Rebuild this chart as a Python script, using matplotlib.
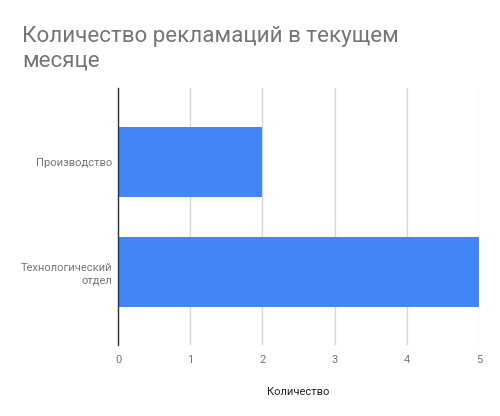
import matplotlib
matplotlib.use("Agg")
import matplotlib.pyplot as plt

plt.rcParams['font.family'] = ['Roboto', 'DejaVu Sans']

categories = ["Производство", "Технологический\nотдел"]
values = [2, 5]
x_ticks = [0, 1, 2, 3, 4, 5]
title = "Количество рекламаций в текущем\nмесяце"
x_label = "Количество"

fig = plt.figure(figsize=(5, 4.16), dpi=100)
# plot area in pixels: x 118..479, y 88..345
ax = fig.add_axes([118/500, 1 - 345/416, (479-118)/500, (345-88)/416])

pos = list(range(len(categories)))
ax.barh(pos, values, height=0.636, color="#4285F4", zorder=3)
ax.set_ylim(1.664, -0.673)
ax.set_xlim(0, 5)
ax.set_xticks(x_ticks)
ax.set_yticks(pos)
ax.set_yticklabels(categories, ha="right", linespacing=1.3)
ax.tick_params(axis="both", length=0, labelsize=8, colors="#757575")
ax.tick_params(axis="x", pad=7)
ax.tick_params(axis="y", pad=4)
ax.xaxis.grid(True, color="#d9d9d9", linewidth=1, zorder=0)
for s in ["top", "right", "bottom"]:
    ax.spines[s].set_visible(False)
ax.spines["left"].set_color("#333333")
ax.spines["left"].set_linewidth(1)
ax.spines["left"].set_zorder(4)
ax.set_xlabel(x_label, fontsize=8, color="#222222", labelpad=16)

fig.text(22/500, 1 - 26/416, title, fontsize=16.1, color="#757575",
         ha="left", va="top", linespacing=1.25)

fig.savefig("out.png", dpi=100)
